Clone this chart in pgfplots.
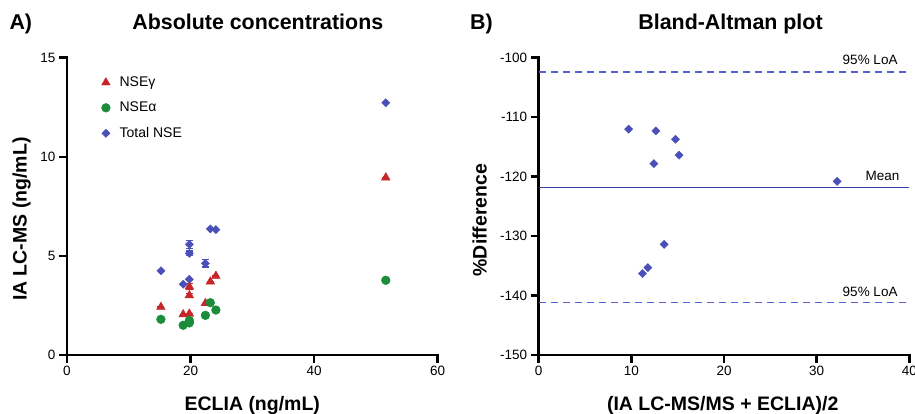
\documentclass[border=0pt]{standalone}
\usepackage{fontspec}
\setmainfont{Liberation Sans}
\usepackage{pgfplots}
\pgfplotsset{compat=1.18}
\usepackage{pgfplotstable}

\definecolor{cRed}{RGB}{198,38,40}
\definecolor{cGreen}{RGB}{26,140,60}
\definecolor{cBlue}{RGB}{75,80,185}
\definecolor{cDash}{RGB}{85,95,210}
\definecolor{cMean}{RGB}{55,60,175}

\pgfplotstableread{
x y e
51.6 8.95 0
15.2 2.42 0
19.8 3.45 0.15
19.8 3.01 0.10
19.8 2.08 0
18.8 2.05 0
22.4 2.61 0
23.2 3.70 0
24.1 3.99 0
}\gammadata

\pgfplotstableread{
x y e
51.6 3.77 0
15.2 1.80 0
18.8 1.50 0
19.8 1.62 0
19.8 1.68 0
19.8 1.74 0
22.4 2.00 0
23.2 2.64 0
24.1 2.27 0
}\alphadata

\pgfplotstableread{
x y e
51.6 12.73 0
15.2 4.25 0
19.8 5.58 0.20
19.8 5.13 0.12
19.8 3.82 0
18.8 3.57 0
22.4 4.62 0.18
23.2 6.36 0
24.1 6.33 0
}\totaldata

\pgfplotstableread{
x y
9.70 -112.0
12.64 -112.3
14.76 -113.7
15.15 -116.4
12.43 -117.8
32.2 -120.8
13.54 -131.4
11.78 -135.3
11.20 -136.3
}\badata

\pgfplotsset{
  myaxis/.style={
    scale only axis, width=370.7pt, height=297.3pt,
    axis x line*=bottom, axis y line*=left,
    major tick length=8pt,
    tick align=outside,
    ticklabel style={font=\fontsize{13.5}{15}\selectfont},
    /pgf/number format/assume math mode=true,
    clip=false,
  },
  legimg/.style={legend image code/.code={\path (0pt,0pt) (16.5pt,0pt); \draw[mark repeat=2, mark phase=2, ##1] plot coordinates {(0pt,0pt) (5pt,0pt) (16.5pt,0pt)};}},
  errstyle/.style={error bars/.cd, y dir=both, y explicit,
    error mark options={rotate=90, mark size=3.5pt, line width=1.2pt}},
}

\begin{document}
\begin{tikzpicture}[x=1pt,y=1pt]
\begin{axis}[myaxis,
  at={(67pt,58pt)}, anchor=south west,
  axis line style={line width=2.6pt, black},
  tick style={line width=2.6pt, black},
  xmin=0, xmax=60, ymin=0, ymax=15,
  xtick={0,20,40,60}, ytick={0,5,10,15},
  legend style={draw=none, fill=none, at={(rel axis cs:0,1)}, anchor=north west,
    xshift=30.5pt, yshift=-15pt, font=\fontsize{14}{16}\selectfont, row sep=10pt},
  legend cell align=left,
]
\draw[line width=2.6pt, black, line cap=rect] (axis cs:0,15) -- (axis cs:0,0) -- (axis cs:60,0);
\addplot[only marks, legimg, mark=triangle*, mark size=5pt, color=cRed, errstyle, error bar style={line width=1.2pt, cRed}]
  table[x=x, y=y, y error=e] {\gammadata};
\addlegendentry{NSEγ}
\addplot[only marks, legimg, mark=*, mark size=4.4pt, color=cGreen]
  table[x=x, y=y] {\alphadata};
\addlegendentry{NSEα}
\addplot[only marks, legimg, mark=square*, mark size=2.9pt, mark options={rotate=45}, color=cBlue, errstyle, error bar style={line width=1.2pt, cBlue}]
  table[x=x, y=y, y error=e] {\totaldata};
\addlegendentry{Total NSE}
\end{axis}

\begin{axis}[myaxis,
  at={(538.7pt,58pt)}, anchor=south west,
  axis line style={line width=2.6pt, black},
  tick style={line width=2.6pt, black},
  xmin=0, xmax=40, ymin=-150, ymax=-100,
  xtick={0,10,20,30,40}, ytick={-150,-140,-130,-120,-110,-100},
]
\draw[line width=2.6pt, black, line cap=rect] (axis cs:0,-100) -- (axis cs:0,-150) -- (axis cs:40,-150);
\addplot[cDash, line width=1.5pt, dash pattern=on 7pt off 5pt] coordinates {(0,-102.4) (40,-102.4)};
\addplot[cMean, line width=1.6pt] coordinates {(0,-121.8) (40,-121.8)};
\addplot[cDash, line width=1.5pt, dash pattern=on 7pt off 5pt] coordinates {(0,-141.2) (40,-141.2)};
\addplot[only marks, mark=square*, mark size=2.9pt, mark options={rotate=45}, color=cBlue]
  table[x=x, y=y] {\badata};
\node[anchor=east, font=\fontsize{13.5}{15}\selectfont] at (axis cs:39.1,-100.4) {95\% LoA};
\node[anchor=east, font=\fontsize{13.5}{15}\selectfont] at (axis cs:39.1,-139.3) {95\% LoA};
\node[anchor=east, font=\fontsize{13.5}{15}\selectfont] at (axis cs:39.3,-119.9) {Mean};
\end{axis}

% panel titles and axis labels
\node[anchor=base west, font=\bfseries\fontsize{21.4}{24}\selectfont, inner sep=0pt] at (9.3,383.7) {A)};
\node[anchor=base, font=\bfseries\fontsize{21.4}{24}\selectfont, inner sep=0pt] at (257.8,383.7) {Absolute concentrations};
\node[anchor=base west, font=\bfseries\fontsize{21.4}{24}\selectfont, inner sep=0pt] at (470,383.7) {B)};
\node[anchor=base, font=\bfseries\fontsize{21.4}{24}\selectfont, inner sep=0pt] at (730.5,383.7) {Bland-Altman plot};
\node[anchor=base, font=\bfseries\fontsize{19.5}{22}\selectfont, inner sep=0pt] at (252.3,2.3) {ECLIA (ng/mL)};
\node[anchor=base, font=\bfseries\fontsize{19.5}{22}\selectfont, inner sep=0pt] at (722.7,2.3) {(IA LC-MS/MS + ECLIA)/2};
\node[anchor=base, rotate=90, font=\bfseries\fontsize{19.5}{22}\selectfont, inner sep=0pt] at (26.7,193.8) {IA LC-MS (ng/mL)};
\node[anchor=base, rotate=90, font=\bfseries\fontsize{19.5}{22}\selectfont, inner sep=0pt] at (486.7,193) {\%Difference};

\pgfresetboundingbox
\path (0,0) rectangle (915,413);
\end{tikzpicture}
\end{document}
